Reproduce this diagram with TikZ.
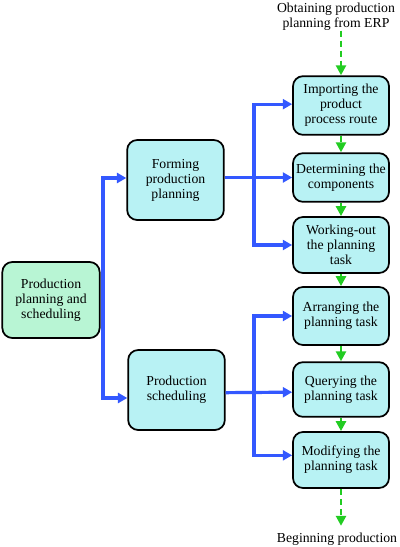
\documentclass[tikz,border=0pt]{standalone}
\usepackage{fontspec}
\setmainfont{Liberation Serif}
\usetikzlibrary{arrows.meta}
\definecolor{boxcyan}{HTML}{B8F2F4}
\definecolor{boxmint}{HTML}{B8F5D4}
\definecolor{lineblue}{HTML}{3358FF}
\definecolor{linegreen}{HTML}{22CC22}
\tikzset{
  box/.style={draw=black, line width=1.3pt, rounded corners=7.5pt, fill=boxcyan,
    align=center, inner sep=1pt, font=\fontsize{10.3}{11.3}\selectfont},
  rbox/.style={box, minimum width=72pt},
  mbox/.style={box, minimum width=72.5pt, minimum height=60pt},
  bline/.style={draw=lineblue, line width=2.4pt},
  barrow/.style={bline, -{Triangle[length=7pt,width=7.5pt]}},
  garrow/.style={draw=linegreen, line width=1.9pt, dash pattern=on 4.5pt off 3pt, -{Triangle[length=7.5pt,width=7.5pt]}},
  lbl/.style={align=center, inner sep=0pt, font=\fontsize{10.3}{11.3}\selectfont}
}
\begin{document}
\begin{tikzpicture}[x=0.75pt,y=-0.75pt]
\useasboundingbox (0,0) rectangle (400,547);
% left box
\node[box, fill=boxmint, minimum width=73pt, minimum height=57pt] (L) at (51,300) {Production\\planning and\\scheduling};
% middle boxes
\node[mbox] (F) at (175.5,180) {Forming\\production\\planning};
\node[mbox] (S) at (176.5,390) {Production\\scheduling};
% right boxes
\node[rbox, minimum height=44pt] (I) at (341,105.5) {Importing the\\product\\process route};
\node[rbox, minimum height=36.5pt] (D) at (341,177.5) {Determining the\\components};
\node[rbox, minimum height=42pt] (W) at (341,245) {Working-out\\the planning\\task};
\node[rbox, minimum height=43.5pt] (A) at (341,316) {Arranging the\\planning task};
\node[rbox, minimum height=41pt] (Q) at (341,389.5) {Querying the\\planning task};
\node[rbox, minimum height=42pt] (M) at (341,460) {Modifying the\\planning task};
% top and bottom labels
\node[lbl] (T) at (336,16.5) {Obtaining production\\planning from ERP};
\node[lbl] (B) at (337,539) {Beginning production};
% blue connectors
\coordinate (j1) at (103,300);
\draw[bline] (L.east) -- (j1);
\draw[barrow] (j1) |- ([yshift=1.5pt]F.west);
\draw[barrow] (j1) |- ([yshift=-6pt]S.west);
\coordinate (j2) at (254,177.5);
\draw[barrow] (F.east |- D.west) -- (D.west);
\draw[barrow] (j2) |- ([yshift=1pt]I.west);
\draw[barrow] (j2) |- (W.west);
\coordinate (j3) at (254,392);
\draw[barrow] ([yshift=-2pt]S.east) -- ([yshift=-2pt]Q.west);
\draw[barrow] (j3) |- (A.west);
\draw[barrow] (j3) |- ([yshift=3.5pt]M.west);
% green connectors
\draw[garrow] (T.south -| I.north) -- (I.north);
\draw[garrow] (I.south) -- (D.north);
\draw[garrow] (D.south) -- (W.north);
\draw[garrow] (W.south) -- (A.north);
\draw[garrow] (A.south) -- (Q.north);
\draw[garrow] (Q.south) -- (M.north);
\draw[garrow] (M.south) -- ([yshift=5pt]M.south |- B.north);
\end{tikzpicture}
\end{document}
